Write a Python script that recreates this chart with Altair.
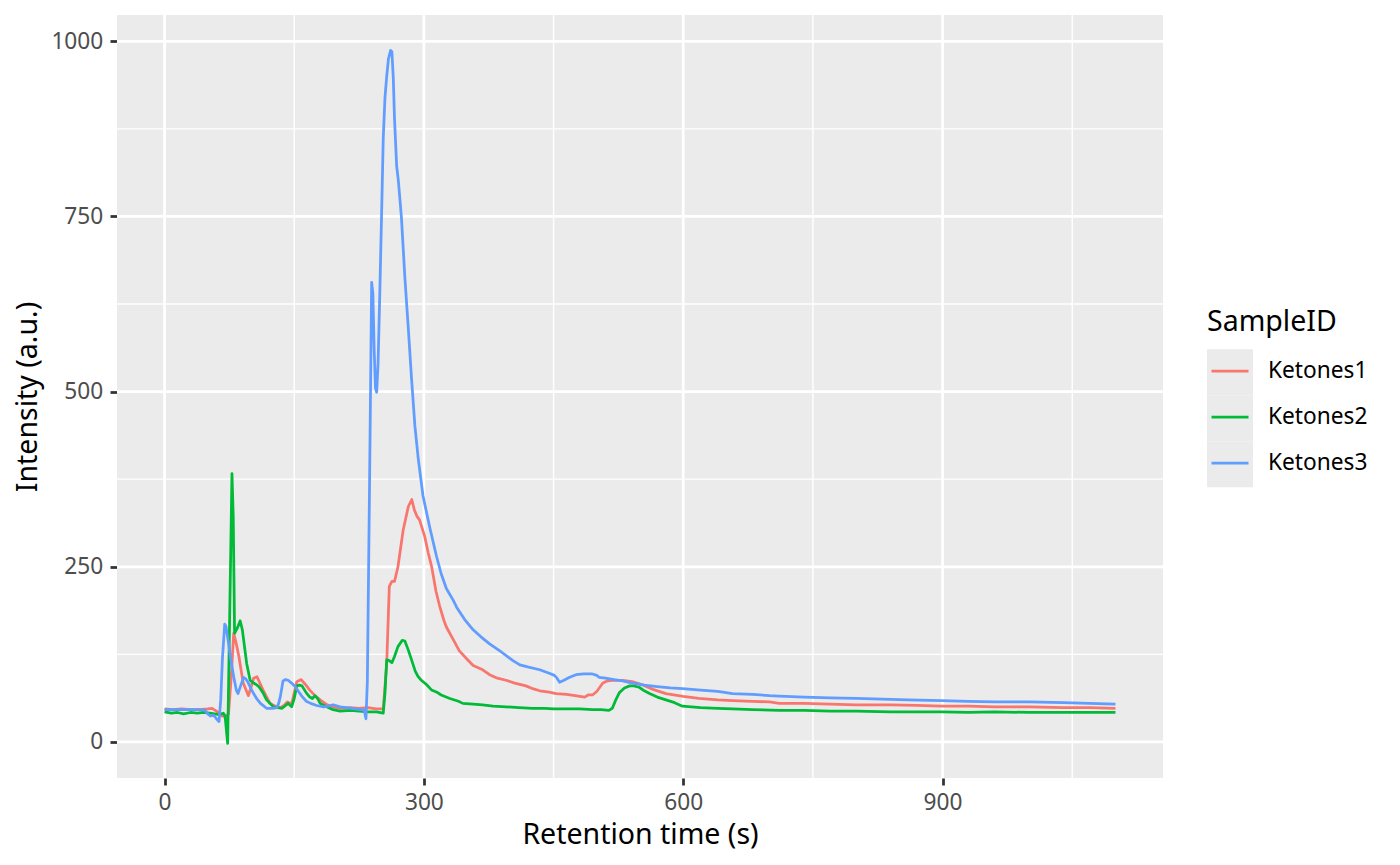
import altair as alt
import pandas as pd

sample_ids = ["Ketones1", "Ketones2", "Ketones3"]
line_colors = ["#F8766D", "#00BA38", "#619CFF"]
key_ids = ["key1", "key2", "key3"]
key_fill = ["#EBEBEB", "#EBEBEB", "#EBEBEB"]

k1_time = [0, 10, 20, 30, 40, 50, 55, 60, 66, 70, 74, 77, 80, 83, 86, 91, 97, 100, 103, 107,
           114, 122, 128, 134, 139, 142, 147, 150, 153, 158, 163, 168, 174, 180, 188, 195, 203, 215, 225, 235,
           245, 253, 257, 260, 263, 266, 270, 276, 282, 286, 289, 292, 295, 301, 305, 309, 314, 318, 323, 326,
           334, 341, 350, 357, 368, 376, 385, 395, 405, 418, 426, 434, 445, 453, 465, 475, 486, 490, 495, 500,
           507, 512, 518, 530, 541, 552, 565, 580, 600, 618, 640, 657, 680, 700, 711, 740, 770, 800, 840, 870,
           899, 930, 960, 1000, 1040, 1070, 1100]
k1_int = [47, 46, 47, 46, 46, 47, 48, 44, 37, 36, 40, 90, 155, 140, 122, 84, 66, 78, 91, 93,
          74, 55, 51, 49, 53, 57, 54, 70, 86, 89, 82, 74, 66, 60, 53, 50, 48, 49, 48, 49,
          47, 47, 112, 222, 229, 229, 250, 302, 336, 346, 331, 322, 317, 293, 270, 250, 215, 195, 174, 164,
          146, 130, 118, 109, 103, 96, 91, 88, 84, 80, 76, 73, 71, 69, 68, 66, 64, 67, 67, 72,
          84, 87, 88, 88, 86, 82, 75, 69, 65, 62, 60, 59, 58, 57, 55, 55, 54, 53, 53, 52,
          51, 51, 50, 50, 49, 49, 48]

k2_time = [0, 8, 15, 22, 30, 38, 45, 52, 58, 63, 68, 70, 73, 78, 79.5, 81, 84, 87.5, 90,
           95, 99, 103, 106, 109, 114, 118, 126, 131, 136, 140, 143, 147, 150, 153, 156, 159, 164, 168, 171,
           174, 177, 180, 188, 195, 203, 215, 225, 235, 245, 253, 255, 257, 260, 263, 266, 270, 275, 278, 282,
           285, 290, 293, 297, 303, 309, 315, 320, 330, 340, 345, 357, 368, 380, 395, 410, 426, 440, 450, 465,
           480, 495, 505, 514, 518, 522, 526, 532, 538, 543, 549, 555, 561, 570, 580, 590, 599, 620, 640, 657,
           680, 711, 740, 770, 800, 840, 870, 899, 930, 960, 1000, 1040, 1070, 1100]
k2_int = [43, 41, 42, 40, 42, 41, 42, 41, 40, 39, 41, 37, -2, 383, 320, 155, 162, 173, 160,
          112, 88, 84, 82, 79, 70, 60, 50, 49, 48, 52, 55, 50, 62, 80, 81, 80, 70, 64, 62,
          66, 62, 55, 50, 46, 44, 45, 44, 43, 43, 41, 70, 117, 116, 113, 122, 136, 145, 144, 131,
          120, 101, 94, 88, 82, 74, 71, 67, 62, 58, 55, 54, 53, 51, 50, 49, 48, 48, 47, 47,
          47, 46, 46, 45, 48, 60, 70, 77, 80, 80, 78, 73, 69, 64, 60, 56, 51, 49, 48, 47,
          46, 45, 45, 44, 44, 43, 43, 43, 42, 43, 42, 42, 42, 42]

k3_time = [0, 10, 20, 30, 40, 47, 50, 53, 57, 60, 63, 65, 67, 69.6, 71, 74, 77, 80, 83, 85,
           88, 91.5, 94, 97, 100, 103, 107, 111, 118, 125, 130, 132, 134, 137, 140, 143, 147, 151, 155, 159,
           164, 169, 176, 184, 190, 195, 203, 210, 220, 228, 231, 233, 234.6, 237, 239.6, 241, 242.5, 244, 245.4, 247,
           249, 251, 253, 255, 257, 259, 261.5, 263, 264.6, 266, 268.5, 270.4, 274, 278, 282, 285.8, 289.6, 293.5, 299, 307,
           314.6, 320, 326, 334, 338, 347, 357, 366, 376, 390, 403, 411, 420, 434, 445, 451, 454, 457, 462, 468,
           476, 485, 495, 500, 503, 510, 520, 530, 541, 555, 570, 585, 599, 620, 640, 657, 680, 700, 711, 740,
           770, 800, 830, 860, 899, 930, 960, 1000, 1040, 1070, 1100]
k3_int = [46, 46, 46, 46, 46, 45, 40, 37, 38, 33, 29, 60, 120, 168, 165, 141, 115, 93, 74, 69,
          80, 92, 90, 84, 76, 69, 61, 55, 48, 48, 49, 55, 65, 87, 89, 88, 84, 79, 72, 65,
          58, 55, 52, 50, 51, 53, 50, 49, 47, 46, 45, 33, 86, 351, 656, 640, 560, 505, 499, 540,
          640, 749, 862, 920, 950, 975, 987, 985, 948, 890, 822, 802, 749, 663, 590, 517, 451, 404, 351, 305,
          265, 240, 219, 202, 192, 175, 160, 150, 140, 128, 116, 110, 107, 103, 98, 95, 91, 85, 88, 92,
          96, 97, 97, 95, 92, 91, 89, 87, 84, 81, 79, 77, 76, 74, 72, 69, 68, 66, 65.5, 64,
          63, 62, 61, 60, 59, 58, 57, 57, 56, 55, 54]

x_domain = [-55, 1155]
y_domain = [-51.5, 1037.5]
x_major = [0, 300, 600, 900]
x_minor = [150, 450, 750, 1050]
y_major = [0, 250, 500, 750, 1000]
y_minor = [125, 375, 625, 875]

rows = []
for sid, ts, vs in zip(sample_ids, [k1_time, k2_time, k3_time], [k1_int, k2_int, k3_int]):
    for i, (t, v) in enumerate(zip(ts, vs)):
        rows.append({"SampleID": sid, "time": t, "intensity": v, "order": i})
df = pd.DataFrame(rows)

FONT = "Noto Sans"
x_scale = alt.Scale(domain=x_domain, nice=False, zero=False)
y_scale = alt.Scale(domain=y_domain, nice=False, zero=False)

x_axis = alt.Axis(values=x_major, grid=False, domain=False,
                  tickColor="#333333", tickWidth=2.76, tickSize=7, labelFont=FONT, labelFontSize=22.7,
                  labelColor="#4D4D4D", labelPadding=6, labelFlush=False, labelOverlap=False, format="d",
                  title="Retention time (s)", titleFont=FONT, titleFontSize=28.5,
                  titleFontWeight="normal", titleColor="black", titleY=42.2, titleBaseline="top")
y_axis = alt.Axis(values=y_major, grid=False, domain=False,
                  tickColor="#333333", tickWidth=2.76, tickSize=7, labelFont=FONT, labelFontSize=22.7,
                  labelColor="#4D4D4D", labelPadding=7.2, labelFlush=False, labelOverlap=False, format="d",
                  title="Intensity (a.u.)", titleFont=FONT, titleFontSize=28.5,
                  titleFontWeight="normal", titleColor="black", titleX=-75, titleBaseline="bottom")


def xenc(field):
    return alt.X(field, type="quantitative", scale=x_scale, axis=x_axis)


def yenc(field):
    return alt.Y(field, type="quantitative", scale=y_scale, axis=y_axis)


panel = alt.Chart(pd.DataFrame({"time": [x_domain[0]], "time2": [x_domain[1]],
                                "intensity": [y_domain[0]], "intensity2": [y_domain[1]]})).mark_rect(
    color="#EBEBEB").encode(x=xenc("time"), x2="time2:Q", y=yenc("intensity"), y2="intensity2:Q")

vgrid_minor = alt.Chart(pd.DataFrame({"time": x_minor})).mark_rule(color="white", strokeWidth=1.38).encode(
    x=xenc("time"))
hgrid_minor = alt.Chart(pd.DataFrame({"intensity": y_minor})).mark_rule(color="white", strokeWidth=1.38).encode(
    y=yenc("intensity"))
vgrid_major = alt.Chart(pd.DataFrame({"time": x_major})).mark_rule(color="white", strokeWidth=2.76).encode(
    x=xenc("time"))
hgrid_major = alt.Chart(pd.DataFrame({"intensity": y_major})).mark_rule(color="white", strokeWidth=2.76).encode(
    y=yenc("intensity"))

lines = alt.Chart(df).mark_line(strokeWidth=2.76, strokeJoin="round").encode(
    x=xenc("time"),
    y=yenc("intensity"),
    order=alt.Order("order:Q"),
    stroke=alt.Stroke("SampleID:N", scale=alt.Scale(domain=sample_ids, range=line_colors),
                      legend=alt.Legend(title="SampleID", orient="none", legendX=1090, legendY=293.2,
                                        direction="vertical", padding=0, rowPadding=0,
                                        symbolType="M0,-0.79M-0.856,0L0.856,0M0,0.79", symbolSize=1869,
                                        symbolStrokeWidth=2.76, symbolFillColor="transparent",
                                        labelFont=FONT, labelFontSize=22.7, labelColor="black",
                                        labelOffset=15, titleFont=FONT, titleFontSize=28.5,
                                        titleFontWeight="normal", titleColor="black", titlePadding=11.5,
                                        titleBaseline="top", zindex=1)),
)

keys = alt.Chart(pd.DataFrame({"key": key_ids})).transform_filter("false").mark_square().encode(
    fill=alt.Fill("key:N", scale=alt.Scale(domain=key_ids, range=key_fill),
                  legend=alt.Legend(title=None, orient="none", legendX=1090, legendY=334.3,
                                    direction="vertical", padding=0, rowPadding=0,
                                    symbolType="square", symbolSize=2116, symbolStrokeWidth=0,
                                    symbolOpacity=1, labelExpr="''", labelFontSize=22.7, zindex=0)),
)

chart = alt.layer(panel, vgrid_minor, hgrid_minor, vgrid_major, hgrid_major, lines, keys).properties(
    width=1046, height=763,
    padding={"left": 109, "top": 7, "right": 229, "bottom": 79},
    autosize=alt.AutoSizeParams(type="none"),
    background="white",
).configure_view(fill="#EBEBEB", strokeWidth=0)

chart.save("out.html", embed_options={"renderer": "svg", "actions": False})
